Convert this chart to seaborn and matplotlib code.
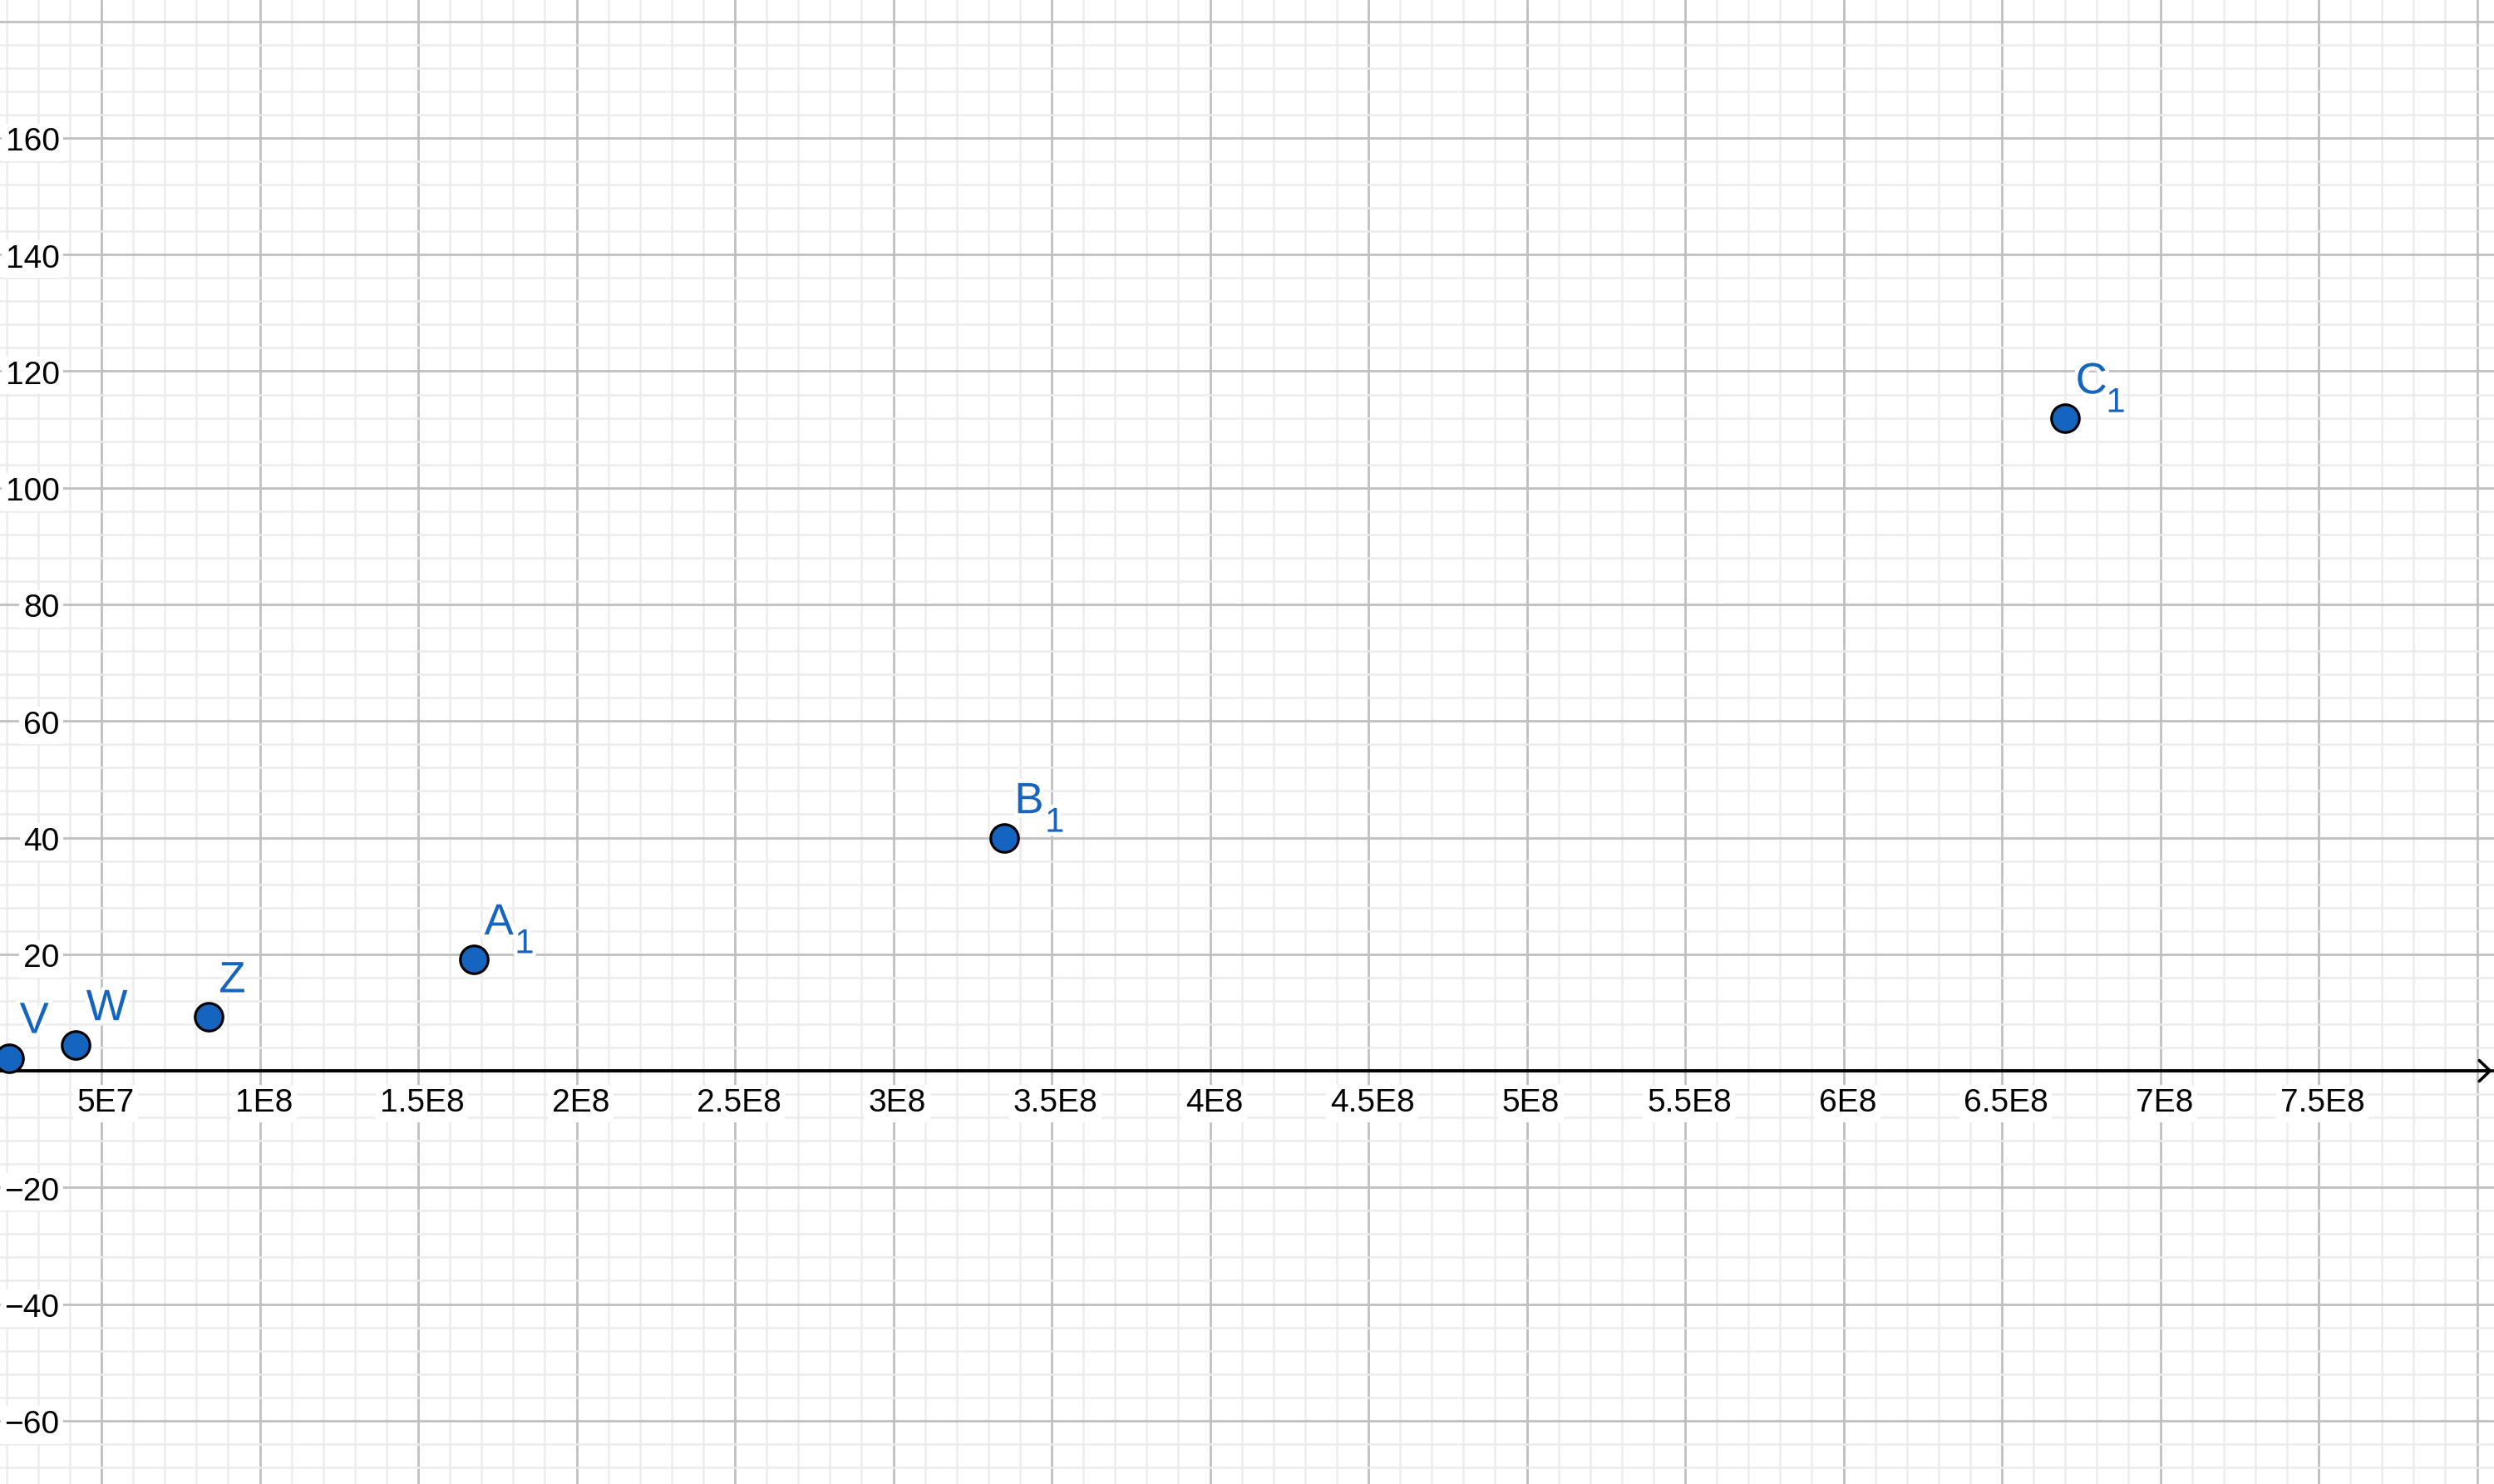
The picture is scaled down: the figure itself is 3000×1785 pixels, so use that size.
import matplotlib
matplotlib.use("Agg")
import matplotlib.pyplot as plt
import matplotlib.patheffects as pe
import numpy as np
import pandas as pd
import seaborn as sns

# ---------------- data ----------------
point_names = ["V", "W", "Z", "A", "B", "C"]
point_subs = ["", "", "", "1", "1", "1"]
x_values = [2.09e7, 4.19e7, 8.38e7, 1.676e8, 3.35e8, 6.70e8]
y_values = [2.2, 4.4, 9.2, 19.1, 39.9, 111.9]

xtick_values = [5e7, 1e8, 1.5e8, 2e8, 2.5e8, 3e8, 3.5e8, 4e8, 4.5e8, 5e8,
                5.5e8, 6e8, 6.5e8, 7e8, 7.5e8]
xtick_labels = ["5E7", "1E8", "1.5E8", "2E8", "2.5E8", "3E8", "3.5E8", "4E8",
                "4.5E8", "5E8", "5.5E8", "6E8", "6.5E8", "7E8", "7.5E8"]
ytick_values = [-60, -40, -20, 20, 40, 60, 80, 100, 120, 140, 160]
ytick_labels = ["\u221260", "\u221240", "\u221220", "20", "40", "60", "80",
                "100", "120", "140", "160"]

# ---------------- style ----------------
sns.set_theme(style="white")
plt.rcParams["font.family"] = ["Liberation Sans", "DejaVu Sans"]

POINT_BLUE = "#1565c0"
MAJOR_GRID = "#c0c0c0"
MINOR_GRID = "#ececec"

fig = plt.figure(figsize=(30, 17.85), dpi=100)
ax = fig.add_axes([0, 0, 1, 1])
ax.set_facecolor("white")

for s in ax.spines.values():
    s.set_visible(False)

# points
df = pd.DataFrame({"x": x_values, "y": y_values, "name": point_names,
                   "sub": point_subs})
sns.scatterplot(data=df, x="x", y="y", ax=ax, s=580, color=POINT_BLUE,
                edgecolor="black", linewidth=2.3, zorder=5, legend=False,
                clip_on=True)
ax.set_xlabel("")
ax.set_ylabel("")

ax.set_xticks(np.arange(0, 8.5e8, 5e7))
ax.set_xticks(np.arange(0, 8.5e8, 1e7), minor=True)
ax.set_yticks(np.arange(-80, 200, 20))
ax.set_yticks(np.arange(-80, 200, 4), minor=True)
ax.tick_params(which="both", length=0, labelbottom=False, labelleft=False)
ax.grid(which="minor", color=MINOR_GRID, linewidth=1.8, zorder=0)
ax.grid(which="major", color=MAJOR_GRID, linewidth=2.0, zorder=0.5)
ax.set_axisbelow(True)

# view limits (set after ticks so they are not expanded)
px_per_x = 190.5 / 5e7
x_origin_px = -68.5
ax.set_xlim((0 - x_origin_px) / px_per_x, (3000 - x_origin_px) / px_per_x)
ax.set_ylim(-70.87, 183.67)

# x axis with arrow
ax.axhline(0, color="black", linewidth=2.6, zorder=2)
ax.annotate("", xy=(0.9993, 0), xycoords=("axes fraction", "data"),
            xytext=(0.0, 0), textcoords=("axes fraction", "data"),
            arrowprops=dict(arrowstyle="->,head_length=0.94,head_width=0.9",
                            color="black", lw=2.6, shrinkA=0, shrinkB=0,
                            mutation_scale=10), zorder=2)

# tick labels with white background
for xv, lab in zip(xtick_values, xtick_labels):
    ax.annotate(lab, xy=(xv, 0), xycoords="data", xytext=(3.5, -35.5),
                textcoords="offset points", ha="center", va="baseline",
                fontsize=28, color="black", zorder=3,
                bbox=dict(boxstyle="square,pad=0.12", fc="white", ec="none"))
for yv, lab in zip(ytick_values, ytick_labels):
    ax.annotate(lab, xy=(0, yv), xycoords=("axes fraction", "data"),
                xytext=(51.5, -11), textcoords="offset points", ha="right",
                va="baseline", fontsize=28, color="black", zorder=3,
                bbox=dict(boxstyle="square,pad=0.12", fc="white", ec="none"))

halo = [pe.withStroke(linewidth=7, foreground="white")]
for _, r in df.iterrows():
    ax.annotate(r["name"], xy=(r["x"], r["y"]), xytext=(9, 21.6),
                textcoords="offset points", ha="left", va="baseline",
                fontsize=38, color=POINT_BLUE, zorder=6, path_effects=halo)
    if r["sub"]:
        ax.annotate(r["sub"], xy=(r["x"], r["y"]), xytext=(35.5, 5.5),
                    textcoords="offset points", ha="left", va="baseline",
                    fontsize=30, color=POINT_BLUE, zorder=6,
                    path_effects=halo)

fig.savefig("out.png", dpi=100)
